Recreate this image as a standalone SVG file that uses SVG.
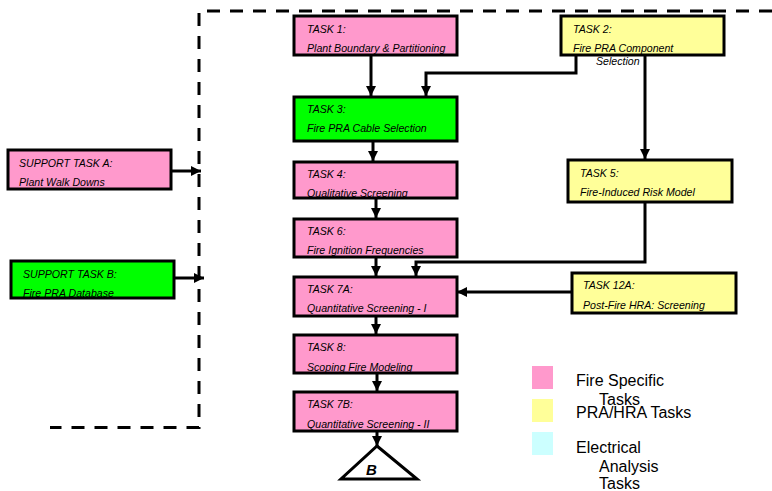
<svg xmlns="http://www.w3.org/2000/svg" width="772" height="491" viewBox="0 0 772 491">
<style>
.t{font-family:"Liberation Sans",Arial,sans-serif;font-style:italic;font-size:10.6px;fill:#000}
.pink{fill:#FF99CC}
.yellow{fill:#FFFF99}
.green{fill:#00FF00}
.cyan{fill:#CCFFFF}
.bd{fill:none;stroke:#000;stroke-width:3}
.c{fill:none;stroke:#000;stroke-width:3}
.lg{font-family:"Liberation Sans",Arial,sans-serif;font-size:16px;fill:#000}
</style>
<defs>
<marker id="ah" markerUnits="userSpaceOnUse" markerWidth="12" markerHeight="12" viewBox="0 0 12 12" refX="10" refY="6" orient="auto">
<path d="M0,1 L10,6 L0,11 Z" fill="#000"/>
</marker>
</defs>
<rect width="772" height="491" fill="#fff"/>

<g id="boundary">
<path d="M772,11 L199,11 L199,427.5 L50,427.5" fill="none" stroke="#000" stroke-width="3" stroke-dasharray="13 10"/>
</g>

<g id="connectors">
<path class="c" d="M371,55 L371,96" marker-end="url(#ah)"/>
<path class="c" d="M576,55 L576,73 L426,73 L426,96" marker-end="url(#ah)"/>
<path class="c" d="M645,55 L645,159" marker-end="url(#ah)"/>
<path class="c" d="M373,141 L373,161" marker-end="url(#ah)"/>
<path class="c" d="M376,198 L376,218" marker-end="url(#ah)"/>
<path class="c" d="M376,257 L376,276" marker-end="url(#ah)"/>
<path class="c" d="M645,202 L645,262 L416,262 L416,276" marker-end="url(#ah)"/>
<path class="c" d="M571,292 L457,292" marker-end="url(#ah)"/>
<path class="c" d="M376,316 L376,334" marker-end="url(#ah)"/>
<path class="c" d="M377,373 L377,391" marker-end="url(#ah)"/>
<path class="c" d="M377,431 L377,446" marker-end="url(#ah)"/>
<path class="c" d="M171,171 L201,171" marker-end="url(#ah)"/>
<path class="c" d="M174,278 L204,278" marker-end="url(#ah)"/>
</g>

<g id="task1">
<rect class="pink" x="294" y="16" width="163" height="39"/>
<text class="t" x="307" y="33">TASK 1:</text>
<text class="t" x="307" y="52">Plant Boundary &amp; Partitioning</text>
<rect class="bd" x="294" y="16" width="163" height="39"/>
</g>

<g id="task2">
<rect class="yellow" x="561" y="16" width="163" height="39"/>
<text class="t" x="573" y="33">TASK 2:</text>
<text class="t" x="573" y="52">Fire PRA Component</text>
<text class="t" x="596" y="65">Selection</text>
<rect class="bd" x="561" y="16" width="163" height="39"/>
</g>

<g id="task3">
<rect class="green" x="294" y="97" width="163" height="44"/>
<text class="t" x="307" y="113">TASK 3:</text>
<text class="t" x="307" y="132">Fire PRA Cable Selection</text>
<rect class="bd" x="294" y="97" width="163" height="44"/>
</g>

<g id="task4">
<rect class="pink" x="294" y="162" width="163" height="36"/>
<text class="t" x="307" y="178">TASK 4:</text>
<text class="t" x="307" y="197">Qualitative Screening</text>
<rect class="bd" x="294" y="162" width="163" height="36"/>
</g>

<g id="task6">
<rect class="pink" x="294" y="219" width="163" height="38"/>
<text class="t" x="307" y="235">TASK 6:</text>
<text class="t" x="307" y="254">Fire Ignition Frequencies</text>
<rect class="bd" x="294" y="219" width="163" height="38"/>
</g>

<g id="task7a">
<rect class="pink" x="294" y="277" width="163" height="39"/>
<text class="t" x="307" y="293">TASK 7A:</text>
<text class="t" x="307" y="312">Quantitative Screening - I</text>
<rect class="bd" x="294" y="277" width="163" height="39"/>
</g>

<g id="task8">
<rect class="pink" x="294" y="335" width="163" height="38"/>
<text class="t" x="307" y="351">TASK 8:</text>
<text class="t" x="307" y="371">Scoping Fire Modeling</text>
<rect class="bd" x="294" y="335" width="163" height="38"/>
</g>

<g id="task7b">
<rect class="pink" x="294" y="392" width="163" height="39"/>
<text class="t" x="307" y="408">TASK 7B:</text>
<text class="t" x="307" y="428">Quantitative Screening - II</text>
<rect class="bd" x="294" y="392" width="163" height="39"/>
</g>

<g id="task5">
<rect class="yellow" x="568" y="160" width="164" height="42"/>
<text class="t" x="580" y="177">TASK 5:</text>
<text class="t" x="580" y="196">Fire-Induced Risk Model</text>
<rect class="bd" x="568" y="160" width="164" height="42"/>
</g>

<g id="task12a">
<rect class="yellow" x="572" y="273" width="164" height="40"/>
<text class="t" x="583" y="289">TASK 12A:</text>
<text class="t" x="583" y="309">Post-Fire HRA: Screening</text>
<rect class="bd" x="572" y="273" width="164" height="40"/>
</g>

<g id="supportA">
<rect class="pink" x="8" y="150" width="163" height="39"/>
<text class="t" x="19" y="167">SUPPORT TASK A:</text>
<text class="t" x="19" y="186">Plant Walk Downs</text>
<rect class="bd" x="8" y="150" width="163" height="39"/>
</g>

<g id="supportB">
<rect class="green" x="11" y="261" width="163" height="37"/>
<text class="t" x="23" y="278">SUPPORT TASK B:</text>
<text class="t" x="23" y="297">Fire PRA Database</text>
<rect class="bd" x="11" y="261" width="163" height="37"/>
</g>

<g id="connectorB">
<path d="M377,446 L417,479 L341,479 Z" fill="#fff" stroke="#000" stroke-width="3" stroke-linejoin="miter"/>
<text x="366" y="475" font-family="Liberation Sans, Arial, sans-serif" font-size="15" font-weight="bold" font-style="italic">B</text>
</g>

<g id="legend">
<rect class="pink" x="532" y="366" width="21" height="23"/>
<rect class="yellow" x="532" y="399" width="21" height="23"/>
<rect class="cyan" x="532" y="432" width="21" height="23"/>
<text class="lg" x="576" y="386">Fire Specific</text>
<text class="lg" x="599" y="405">Tasks</text>
<text class="lg" x="576" y="418">PRA/HRA Tasks</text>
<text class="lg" x="576" y="453">Electrical</text>
<text class="lg" x="599" y="472">Analysis</text>
<text class="lg" x="599" y="489">Tasks</text>
</g>
</svg>
